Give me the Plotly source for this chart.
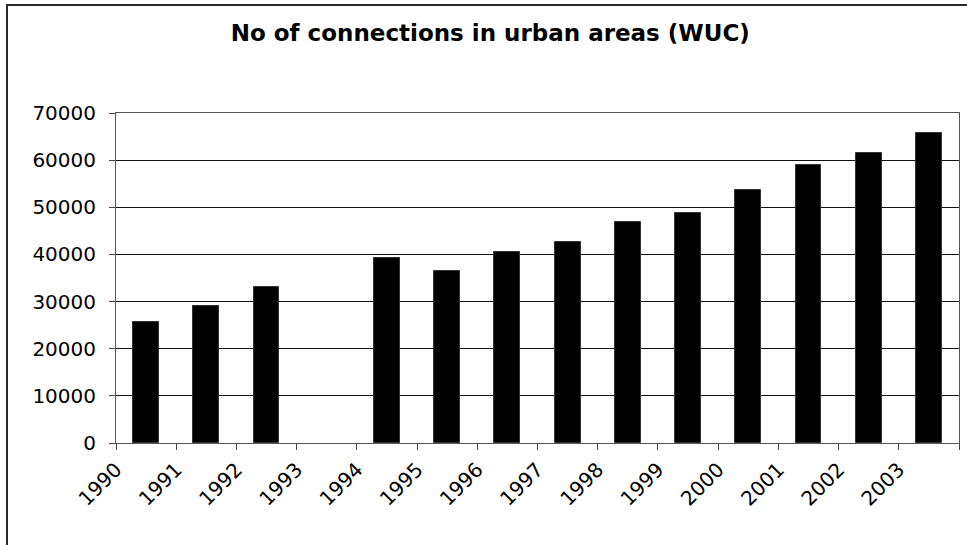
import numpy as np
import plotly.graph_objects as go

# Water-utility connection counts per year (1993 not reported)
years = ["1990", "1991", "1992", "1993", "1994", "1995", "1996",
         "1997", "1998", "1999", "2000", "2001", "2002", "2003"]
connections = [25700, 29000, 33100, None, 39200, 36500, 40600,
               42700, 46900, 48800, 53700, 59000, 61600, 65700]
y_ticks = [0, 10000, 20000, 30000, 40000, 50000, 60000, 70000]

FONT = "DejaVu Sans, Arial, sans-serif"

# each year occupies one unit slot; bars sit in the middle of their slot
slot_centres = np.arange(len(years)) + 0.5
boundaries = np.arange(len(years) + 1)

fig = go.Figure(
    go.Bar(
        x=slot_centres,
        y=connections,
        width=0.43,
        marker=dict(color="#000000", line=dict(color="#333333", width=1)),
        showlegend=False,
    )
)

fig.update_layout(
    width=967,
    height=545,
    margin=dict(l=116, r=8, t=113, b=102),
    paper_bgcolor="white",
    plot_bgcolor="white",
    font=dict(family=FONT, size=20, color="#000000"),
    title=dict(
        text="<b>No of connections in urban areas (WUC)</b>",
        font=dict(family=FONT, size=23, color="#000000"),
        x=0.507,
        xanchor="center",
        y=1 - 33 / 545,
        yanchor="middle",
        yref="container",
    ),
    bargap=0,
)

fig.update_xaxes(
    range=[0, len(years)],
    tickmode="array",
    tickvals=boundaries,
    ticktext=years + [""],
    tickangle=-45,
    ticks="outside",
    ticklen=6,
    tickcolor="#444444",
    showgrid=False,
    zeroline=False,
    showline=True,
    linecolor="#555555",
    linewidth=1,
    mirror=True,
    tickfont=dict(family=FONT, size=20, color="#000000"),
)

fig.update_yaxes(
    range=[0, 70000],
    tickmode="array",
    tickvals=y_ticks,
    ticktext=[str(v) for v in y_ticks],
    ticks="outside",
    ticklen=6,
    tickcolor="#444444",
    ticklabelstandoff=9,
    showgrid=True,
    gridcolor="#111111",
    gridwidth=1,
    zeroline=False,
    showline=True,
    linecolor="#555555",
    linewidth=1,
    mirror=True,
    tickfont=dict(family=FONT, size=20, color="#000000"),
)

# outer chart frame (only its top and left edges fall inside the page)
fig.add_shape(
    type="rect",
    xref="paper",
    yref="paper",
    x0=(7 - 116) / 843,
    x1=1.2,
    y0=-0.6,
    y1=(443 - 5) / 330,
    line=dict(color="#2a2a2a", width=2),
    fillcolor="rgba(0,0,0,0)",
    layer="below",
)

fig.write_html("out.html")
